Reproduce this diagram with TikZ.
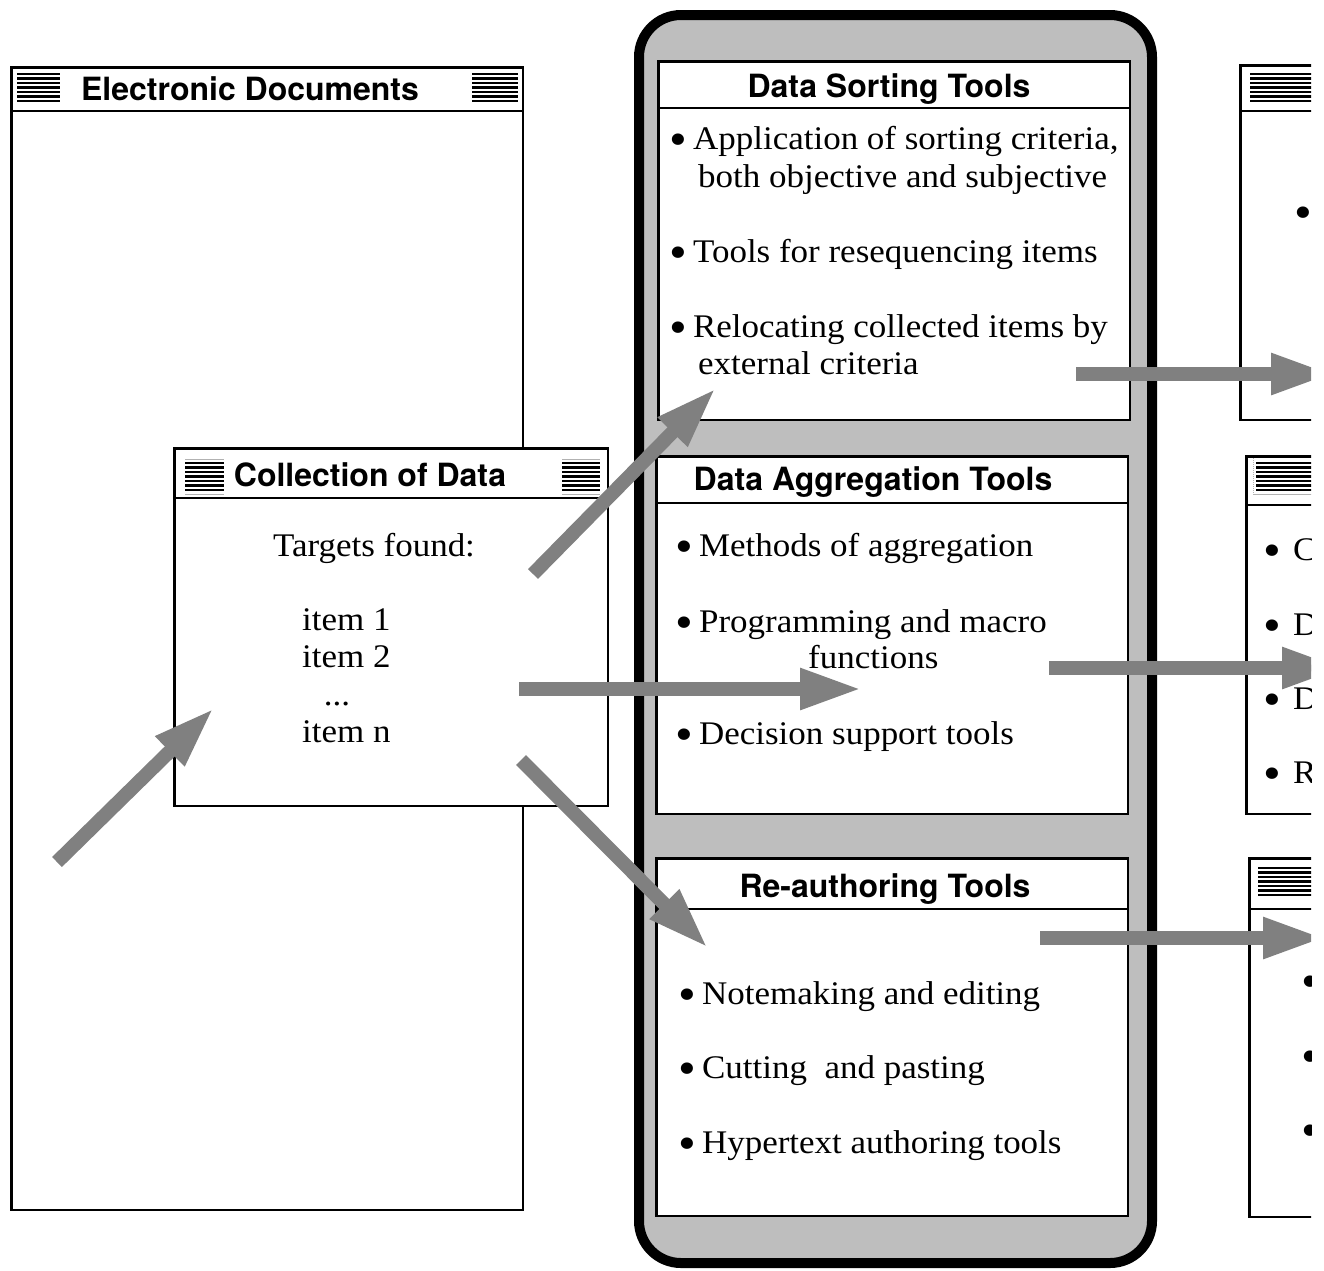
\documentclass[tikz,border=0pt]{standalone}
\usepackage{graphicx}
\usepackage{fontspec}
\setmainfont{Liberation Serif}[FakeStretch=1.06]
\setsansfont{TeX Gyre Heros}
\usetikzlibrary{arrows.meta}

\definecolor{framegray}{HTML}{BEBEBE}
\definecolor{arrowgray}{HTML}{808080}

\newcommand\bul{\raisebox{-0.21em}{\scalebox{1.45}{\textbullet}}\hspace{-0.08em}}

\tikzset{
  win/.style={draw=black, line width=2.5pt, fill=white, rectangle,
    anchor=north west, inner sep=0pt},
  frame/.style={draw=black, line width=10pt, fill=framegray, rectangle,
    rounded corners=42pt, anchor=north west, inner sep=0pt},
  bar/.style={line width=2.5pt},
  ttl/.style={font=\fontsize{32}{38}\selectfont\sffamily\bfseries,
    anchor=base, inner sep=0pt},
  txt/.style={font=\fontsize{33}{38}\selectfont\rmfamily,
    anchor=base west, inner sep=0pt},
  txtc/.style={txt, anchor=base},
  flow/.style={draw=arrowgray, line width=14pt,
    -{Triangle[length=62pt,width=38pt]}},
}

% window: name, left, top, right, bottom, y of the title bar rule
\newcommand\winbox[6]{%
  \node[win, minimum width={#4-#2-2.5}, minimum height={#5-#3-2.5}] (#1) at (#2,#3) {};
  \draw[bar] (#2,#6) -- (#4,#6);
}
% title bar grip: left, top, width
\newcommand\grip[3]{%
  \foreach \k in {0,...,6}
    \draw[line width=2.2pt] (#1,#2+\k*4.5) -- (#1+#3,#2+\k*4.5);
}

\begin{document}
\begin{tikzpicture}[x=1pt,y=-1pt]
\useasboundingbox (0,0) rectangle (1324,1270);
\begin{scope}
\clip (0,0) rectangle (1311,1270);

% left-hand document windows
\winbox{ed}{10}{66}{524}{1211}{111}
\grip{17}{74}{43}
\grip{472}{74}{46}
\node[ttl] (edt) at (250,100) {Electronic Documents};

\winbox{cd}{173}{447}{609}{807}{498}
\draw[gray!60, line width=1pt] (185,459) -- (224,459) (185,494) -- (224,494)
  (562,459) -- (600,459) (562,494) -- (600,494);
\grip{185}{463}{39}
\grip{562}{463}{38}
\node[ttl] (cdt) at (370,486) {Collection of Data};
\node[txtc] (cd1) at (374,556) {Targets found:};
\node[txt] (cd2) at (302,630) {item 1};
\node[txt] (cd3) at (302,667) {item 2};
\node[txtc] (cd4) at (337,705) {...};
\node[txt] (cd5) at (302,742) {item n};

% central tool frame
\node[frame, minimum width=513, minimum height=1248] (tools) at (634,10) {};

\winbox{ds}{657}{60}{1131}{421}{108}
\node[ttl] (dst) at (889,97) {Data Sorting Tools};
\node[txt] (ds1) at (669,149) {\bul\ Application of sorting criteria,};
\node[txt] (ds2) at (698,187) {both objective and subjective};
\node[txt] (ds3) at (669,262) {\bul\ Tools for resequencing items};
\node[txt] (ds4) at (669,337) {\bul\ Relocating collected items by};
\node[txt] (ds5) at (698,374) {external criteria};

\winbox{da}{655}{455}{1129}{815}{503}
\node[ttl] (dat) at (873,490) {Data Aggregation Tools};
\node[txt] (da1) at (675,556) {\bul\ Methods of aggregation};
\node[txt] (da2) at (675,632) {\bul\ Programming and macro};
\node[txt] (da3) at (808,668) {functions};
\node[txt] (da4) at (675,744) {\bul\ Decision support tools};

\winbox{ra}{655}{857}{1129}{1217}{909}
\node[ttl] (rat) at (885,897) {Re-authoring Tools};
\node[txt] (ra1) at (678,1004) {\bul\ Notemaking and editing};
\node[txt] (ra2) at (678,1078) {\bul\ Cutting\ \ and pasting};
\node[txt] (ra3) at (678,1153) {\bul\ Hypertext authoring tools};

% output windows on the right
\winbox{o1}{1239}{64}{1500}{421}{111}
\grip{1250}{74}{80}
\node[txt] (o1a) at (1294,222) {\bul};

\winbox{o2}{1245}{455}{1500}{815}{505}
\draw[gray!60, line width=1pt, densely dotted] (1253,458) -- (1253,494);
\draw[gray!60, line width=1pt] (1253,494) -- (1330,494);
\grip{1256}{463}{80}
\node[txt] (o2a) at (1263,560) {\bul\hspace{0.45em}C};
\node[txt] (o2b) at (1263,635) {\bul\hspace{0.45em}D};
\node[txt] (o2c) at (1263,709) {\bul\hspace{0.45em}D};
\node[txt] (o2d) at (1263,783) {\bul\hspace{0.45em}R};

\winbox{o3}{1248}{857}{1500}{1218}{909}
\grip{1258}{868}{80}
\node[txt] (o3a) at (1301,991) {\bul};
\node[txt] (o3b) at (1301,1066) {\bul};
\node[txt] (o3c) at (1301,1140) {\bul};

% flow arrows
\coordinate (f1s) at (57,862);    \coordinate (f1e) at (214,708);
\coordinate (f2s) at (533,574);   \coordinate (f2e) at (716,388);
\coordinate (f3s) at (519,689);   \coordinate (f3e) at (862,689);
\coordinate (f4s) at (521,760);   \coordinate (f4e) at (708,948);
\coordinate (f5s) at (1076,374);  \coordinate (f5e) at (1333,374);
\coordinate (f6s) at (1049,668);  \coordinate (f6e) at (1344,668);
\coordinate (f7s) at (1040,938);  \coordinate (f7e) at (1325,938);
\foreach \a in {1,...,7}
  \draw[flow] (f\a s) -- (f\a e);
\end{scope}
\end{tikzpicture}
\end{document}
